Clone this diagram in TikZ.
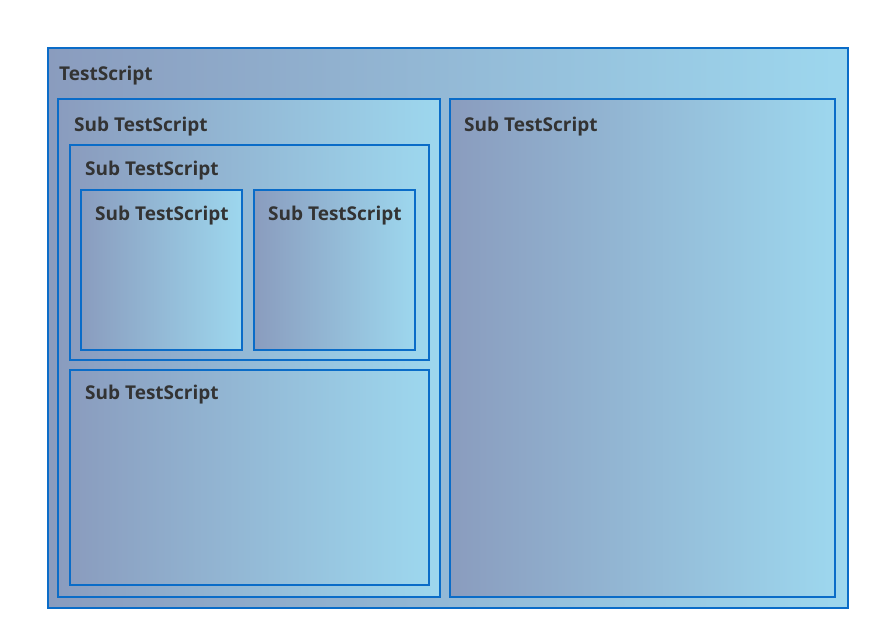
\documentclass[tikz,border=0pt]{standalone}
\usepackage{fontspec}
\setmainfont{Open Sans}
\definecolor{gl}{HTML}{8A9CBE}
\definecolor{gr}{HTML}{9DD7EE}
\definecolor{bd}{HTML}{0A6CC8}
\definecolor{tx}{HTML}{333333}
\tikzset{
  box/.style={draw=bd, line width=1.8pt, left color=gl, right color=gr, shading angle=90},
  lbl/.style={anchor=base west, inner sep=0pt, text=tx, font=\fontsize{19}{22}\selectfont\bfseries}
}
\begin{document}
\begin{tikzpicture}[x=1pt,y=-1pt]
\useasboundingbox (0,0) rectangle (880,640);
\path[box] (48,48) rectangle (848,608);
\node[lbl] (t0) at (59,80) {TestScript};
\path[box] (58,99) rectangle (440,597);
\node[lbl] (t1) at (74,131) {Sub TestScript};
\path[box] (450,99) rectangle (835,597);
\node[lbl] (t2) at (464,131) {Sub TestScript};
\path[box] (70,145) rectangle (429,360);
\node[lbl] (t3) at (85,175) {Sub TestScript};
\path[box] (81,190) rectangle (242,350);
\node[lbl] (t4) at (95,220) {Sub TestScript};
\path[box] (254,190) rectangle (415,350);
\node[lbl] (t5) at (268,220) {Sub TestScript};
\path[box] (70,370) rectangle (429,585);
\node[lbl] (t6) at (85,399) {Sub TestScript};
\end{tikzpicture}
\end{document}
